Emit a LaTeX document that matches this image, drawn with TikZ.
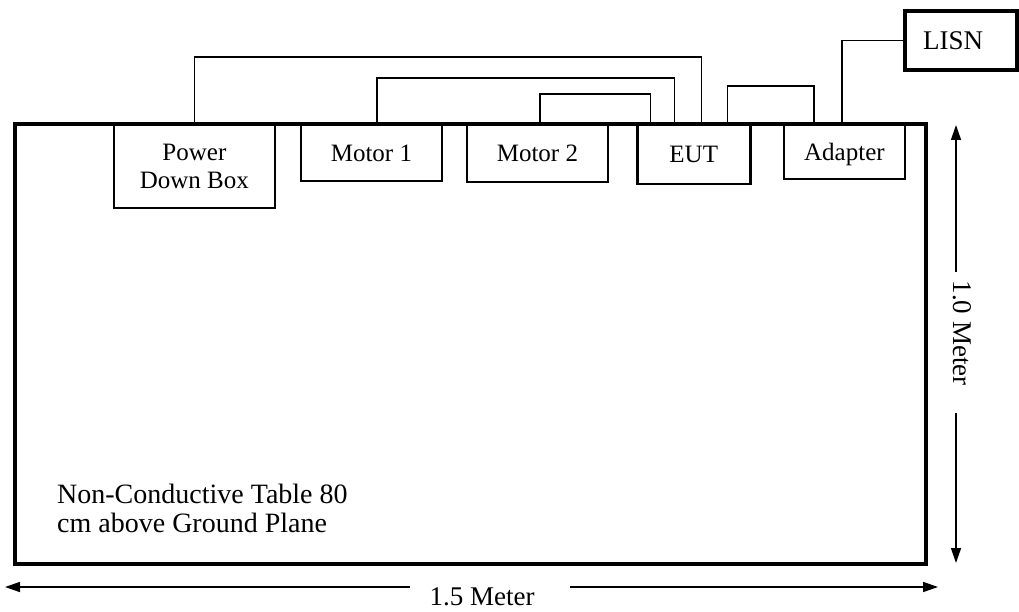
\documentclass[tikz,border=0pt]{standalone}
\usepackage{fontspec}
\setmainfont{Liberation Serif}
\usetikzlibrary{arrows.meta,positioning,calc}

\begin{document}
\begin{tikzpicture}[
    x=1pt, y=-1pt,
    unit/.style={draw, line width=1.8pt, anchor=north west, inner sep=0pt, align=center},
    cable/.style={draw, line width=1.4pt},
    dim/.style={-{Triangle[length=15pt,width=10pt]}, line width=1.5pt},
    every node/.style={font=\fontsize{25}{28}\selectfont}
]
\useasboundingbox (0,0) rectangle (1019,612);

% Table
\node[draw, line width=4pt, minimum width=911pt, minimum height=440pt, inner sep=0pt] (table) at (470.5,344) {};
\node[anchor=west, align=left, inner sep=0pt, font=\fontsize{28}{29}\selectfont] (tabletxt) at (57,508) {Non-Conductive Table 80\\cm above Ground Plane};

% Units on the table
\node[unit, minimum width=161pt, minimum height=83pt] (pdb) at (113,124) {Power\\Down Box};
\node[unit, minimum width=141pt, minimum height=56pt] (motor1) at (300,124) {Motor 1};
\node[unit, minimum width=141pt, minimum height=57pt] (motor2) at (466,124) {Motor 2};
\node[unit, line width=2.5pt, minimum width=113pt, minimum height=59pt] (eut) at (636,124) {EUT};
\node[unit, text depth=0pt, minimum width=121pt, minimum height=54pt] (adapter) at (783,124) {Adapter};

% LISN
\node[unit, line width=4pt, minimum width=112pt, minimum height=59pt, text width=100pt, align=left, font=\fontsize{27}{29}\selectfont] (lisn) at (903,9) {\hspace*{12pt}LISN};

% Cables
\draw[cable] (pdb.north) -- ++(0,-67) -| ([xshift=7.5pt]eut.north);
\draw[cable] ([xshift=5.5pt]motor1.north) -- ++(0,-46) -| ([xshift=-19.5pt]eut.north);
\draw[cable] ([xshift=2.5pt]motor2.north) -- ++(0,-30) -| ([xshift=-43.5pt]eut.north);
\draw[cable] ([xshift=33.5pt]eut.north) -- ++(0,-38) -| ([xshift=-30.5pt]adapter.north);
\draw[cable] ([xshift=-2.5pt]adapter.north) |- (lisn.west);

% Dimensions
\node[rotate=-90, inner sep=0pt, font=\fontsize{27}{29}\selectfont] (heighttxt) at (962,333) {1.0 Meter};
\coordinate (htop) at (956,125);
\coordinate (hbot) at (956,563);
\draw[dim] (956,272) -- (htop);
\draw[dim] (956,413) -- (hbot);

\node[inner sep=0pt, font=\fontsize{27}{29}\selectfont] (widthtxt) at (482,597) {1.5 Meter};
\coordinate (wleft) at (5,587);
\coordinate (wright) at (938,587);
\draw[dim] (410,587) -- (wleft);
\draw[dim] (570,587) -- (wright);

\end{tikzpicture}
\end{document}
